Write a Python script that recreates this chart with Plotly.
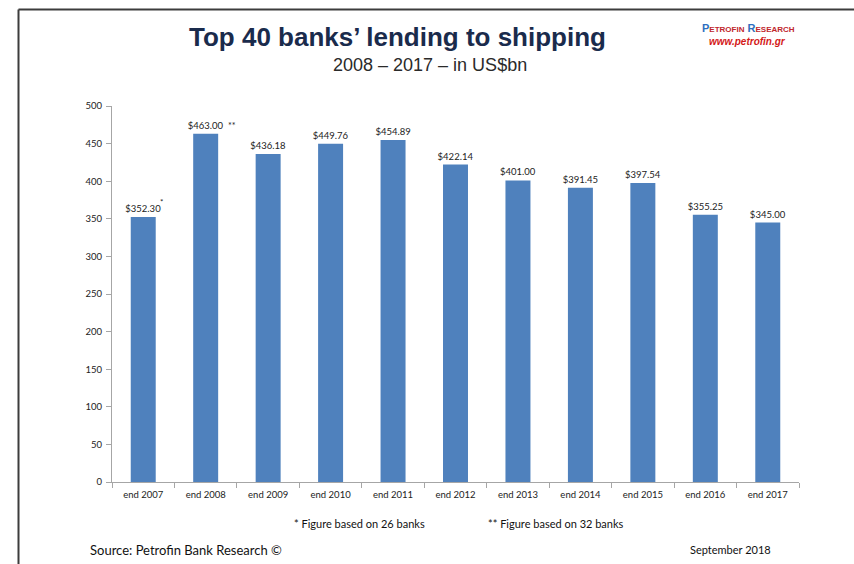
import plotly.graph_objects as go

categories = ["end 2007", "end 2008", "end 2009", "end 2010", "end 2011", "end 2012",
              "end 2013", "end 2014", "end 2015", "end 2016", "end 2017"]
values = [352.30, 463.00, 436.18, 449.76, 454.89, 422.14, 401.00, 391.45, 397.54, 355.25, 345.00]
notes = ["*", "**", "", "", "", "", "", "", "", "", ""]
y_ticks = [0, 50, 100, 150, 200, 250, 300, 350, 400, 450, 500]

W, H = 854, 564
L, R, T, B = 112, 799, 106, 482  # plot area in pixels


def px(x):
    return (x - L) / (R - L)


def py(y):
    return (B - y) / (B - T)


LBL = "Lato, 'Noto Sans', sans-serif"
fig = go.Figure()
fig.add_trace(go.Bar(
    x=categories, y=values,
    marker=dict(color="#4F81BD", line=dict(width=0)),
    width=0.4,
    text=[f"${v:,.2f}" for v in values],
    textposition="outside",
    constraintext="none",
    textfont=dict(family=LBL, size=9.5, color="#222222"),
    cliponaxis=False,
))

annotations = []
for c, v, n in zip(categories, values, notes):
    if n == "*":
        annotations.append(dict(x=c, y=v, xref="x", yref="y", text=n, showarrow=False,
                                xanchor="left", yanchor="middle",
                                xshift=15, yshift=15, font=dict(family=LBL, size=8, color="#222")))
    elif n == "**":
        annotations.append(dict(x=c, y=v, xref="x", yref="y", text=n, showarrow=False,
                                xanchor="left", yanchor="middle",
                                xshift=20, yshift=8, font=dict(family=LBL, size=9, color="#222")))


def ann(x, y, text, size, color, family=LBL, xanchor="center"):
    return dict(x=px(x), y=py(y), xref="paper", yref="paper", showarrow=False,
                xanchor=xanchor, yanchor="middle", text=text,
                font=dict(family=family, size=size, color=color))


ARIAL = "Liberation Sans, Arial"
annotations += [
    ann(397, 37, "<b>Top 40 banks’ lending to shipping</b>", 26, "#1A2B4C", ARIAL),
    ann(430, 65, "2008 – 2017 – in US$bn", 18, "#2A2A2A", ARIAL),
    ann(748, 28, ("<b><span style='color:#2E6FC0'>P</span><span style='font-size:8px'>ETROFIN</span> "
                  "<span style='color:#2E6FC0'>R</span><span style='font-size:8px'>ESEARCH</span></b>"),
        11, "#C0262D", ARIAL),
    ann(747, 41, "<b><i>www.petrofin.gr</i></b>", 10, "#D41A1A", ARIAL),
    ann(359, 523, "* Figure based on 26 banks", 11, "#111"),
    ann(556, 523, "** Figure based on 32 banks", 11, "#111"),
    ann(88, 550, "Source: Petrofin Bank Research ©", 13, "#111", xanchor="left"),
    ann(730, 549, "September 2018", 11, "#111"),
]

shapes = [
    dict(type="line", xref="paper", yref="paper", x0=px(18.5), x1=px(860), y0=py(9.5), y1=py(9.5),
         line=dict(color="#3C3C3C", width=2)),
    dict(type="line", xref="paper", yref="paper", x0=px(18.5), x1=px(18.5), y0=py(9.5), y1=py(570),
         line=dict(color="#3C3C3C", width=2)),
]

fig.update_layout(
    width=W, height=H,
    margin=dict(l=L, r=W - R, t=T, b=H - B, pad=0),
    paper_bgcolor="white", plot_bgcolor="white",
    showlegend=False,
    bargap=0.6,
    annotations=annotations,
    shapes=shapes,
    xaxis=dict(
        showline=True, linecolor="#A6A6A6", linewidth=1,
        ticks="outside", tickson="boundaries", ticklen=5, tickcolor="#A6A6A6",
        tickfont=dict(family=LBL, size=9.5, color="#222"),
        ticklabelstandoff=4,
        showgrid=False, fixedrange=True,
    ),
    yaxis=dict(
        range=[0, 500], tickvals=y_ticks,
        showline=True, linecolor="#A6A6A6", linewidth=1,
        ticks="outside", ticklen=5, tickcolor="#A6A6A6",
        tickfont=dict(family=LBL, size=9.5, color="#222"),
        ticklabelstandoff=2,
        showgrid=False, zeroline=False, fixedrange=True,
    ),
)

fig.write_html("out.html")
